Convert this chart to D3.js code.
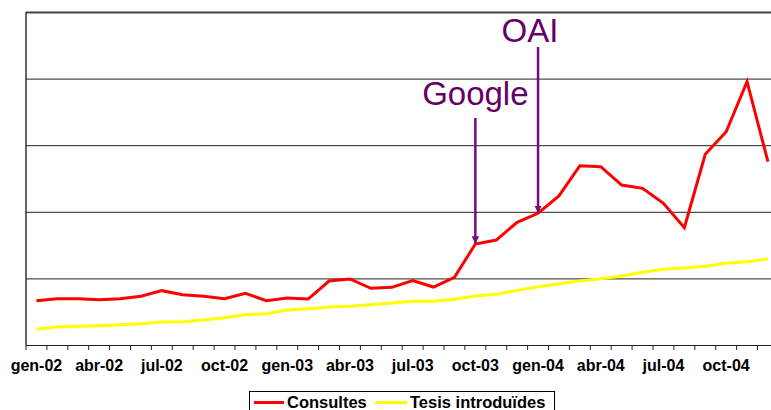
<!DOCTYPE html>
<html>
<head>
<meta charset="utf-8">
<script src="https://cdn.jsdelivr.net/npm/d3@7"></script>
<style>
  body { margin: 0; background: #fff; }
  svg { display: block; font-family: Arial, "Liberation Sans", sans-serif; }
</style>
</head>
<body>
<div id="chart"></div>
<script>
// monthly categories gen-02 .. des-04
var monthNames = ['gen', 'feb', 'mar', 'abr', 'mai', 'jun', 'jul', 'ago', 'set', 'oct', 'nov', 'des'];
var years = ['02', '03', '04'];
var months = [];
years.forEach(function(y) { monthNames.forEach(function(m) { months.push(m + '-' + y); }); });

var tickLabels = ['gen-02', 'abr-02', 'jul-02', 'oct-02', 'gen-03', 'abr-03', 'jul-03', 'oct-03',
                  'gen-04', 'abr-04', 'jul-04', 'oct-04'];

var consultes = [333, 348, 348, 340, 348, 366, 408, 378, 366, 348, 388, 333,
                 353, 345, 480, 496, 426, 433, 483, 435, 508, 758, 788, 921,
                 989, 1119, 1346, 1339, 1201, 1176, 1064, 881, 1432, 1601, 1977, 1376];

var tesis = [118, 135, 140, 145, 152, 160, 173, 175, 188, 205, 227, 235,
             263, 273, 285, 291, 303, 315, 328, 328, 343, 368, 381, 410,
             438, 460, 481, 498, 518, 546, 568, 578, 591, 613, 625, 646];

var yTicks = [0, 500, 1000, 1500, 2000, 2500];

var annotations = [
    {label: 'Google', month: 'oct-03'},
    {label: 'OAI', month: 'gen-04'}
];

var W = 771, H = 410;
var plot = {left: 26, top: 12, right: 26 + 36 * 20.9, bottom: 345};

var svg = d3.select('#chart').append('svg')
    .attr('width', W)
    .attr('height', H);

var x = d3.scaleBand().domain(months).range([plot.left, plot.right]).paddingInner(0).paddingOuter(0);
var y = d3.scaleLinear().domain([0, 2500]).range([plot.bottom, plot.top]);
var cx = function(m) { return x(m) + x.bandwidth() / 2; };

// gridlines
svg.append('g')
    .attr('class', 'grid')
    .attr('transform', 'translate(' + plot.left + ',0)')
    .call(d3.axisLeft(y).tickValues(yTicks).tickSize(-(plot.right - plot.left)).tickFormat(''))
    .call(function(g) { g.select('.domain').remove(); })
    .selectAll('line')
    .attr('stroke', '#222')
    .attr('stroke-width', 1);

svg.select('.grid').selectAll('.tick').filter(function(d) { return d === 2500; })
    .select('line').attr('stroke', '#444').attr('stroke-width', 2);

// y axis line
svg.append('line')
    .attr('x1', plot.left).attr('x2', plot.left)
    .attr('y1', plot.top).attr('y2', plot.bottom)
    .attr('stroke', '#333').attr('stroke-width', 1.5);

// x axis labels
var xAxis = svg.append('g')
    .attr('transform', 'translate(0,' + plot.bottom + ')')
    .call(d3.axisBottom(x).tickValues(tickLabels).tickSize(0).tickPadding(15));
xAxis.select('.domain').attr('stroke', '#222');
xAxis.selectAll('text')
    .attr('fill', '#000')
    .style('font-size', '16px')
    .style('font-weight', 'bold')
    .style('font-family', 'Arial, "Liberation Sans", sans-serif');

// boundary ticks between months
svg.append('g').selectAll('line')
    .data(months.concat(['end']))
    .join('line')
    .attr('x1', function(d) { return d === 'end' ? plot.right : x(d); })
    .attr('x2', function(d) { return d === 'end' ? plot.right : x(d); })
    .attr('y1', plot.bottom)
    .attr('y2', plot.bottom + 5)
    .attr('stroke', '#222');

var line = d3.line()
    .x(function(d, i) { return cx(months[i]); })
    .y(function(d) { return y(d); });

svg.append('path')
    .datum(tesis)
    .attr('fill', 'none')
    .attr('stroke', '#ffff00')
    .attr('stroke-width', 3)
    .attr('d', line);

svg.append('path')
    .datum(consultes)
    .attr('fill', 'none')
    .attr('stroke', '#ff0000')
    .attr('stroke-width', 3)
    .attr('d', line);

// annotations
svg.append('defs').append('marker')
    .attr('id', 'arrow')
    .attr('viewBox', '0 0 10 10')
    .attr('refX', 9).attr('refY', 5)
    .attr('markerWidth', 3).attr('markerHeight', 3)
    .attr('orient', 'auto')
    .append('path')
    .attr('d', 'M0,0L10,5L0,10z')
    .attr('fill', '#730d80');

var annTop = {Google: 118, OAI: 47};
var annBase = {Google: 105, OAI: 42};
var annShift = {Google: 0, OAI: -8};

annotations.forEach(function(a) {
    var i = months.indexOf(a.month);
    var ax = cx(a.month);
    svg.append('line')
        .attr('x1', ax).attr('x2', ax)
        .attr('y1', annTop[a.label])
        .attr('y2', y(consultes[i]) - 1)
        .attr('stroke', '#730d80')
        .attr('stroke-width', 2.5)
        .attr('marker-end', 'url(#arrow)');
    svg.append('text')
        .attr('x', ax + annShift[a.label])
        .attr('y', annBase[a.label])
        .attr('text-anchor', 'middle')
        .attr('fill', '#660066')
        .style('font-size', '33px')
        .text(a.label);
});

// legend
var legend = svg.append('g');
legend.append('rect')
    .attr('x', 249.5).attr('y', 391.5)
    .attr('width', 305).attr('height', 30)
    .attr('fill', '#fff').attr('stroke', '#000');

var legendItems = [
    {name: 'Consultes', color: '#ff0000', x: 254, len: 30},
    {name: 'Tesis introduïdes', color: '#ffff00', x: 375, len: 32}
];
legendItems.forEach(function(d) {
    legend.append('line')
        .attr('x1', d.x).attr('x2', d.x + d.len)
        .attr('y1', 402.5).attr('y2', 402.5)
        .attr('stroke', d.color).attr('stroke-width', 3);
    legend.append('text')
        .attr('x', d.x + d.len + 3).attr('y', 408)
        .style('font-size', '16.5px')
        .style('font-weight', 'bold')
        .text(d.name);
});
</script>
</body>
</html>
